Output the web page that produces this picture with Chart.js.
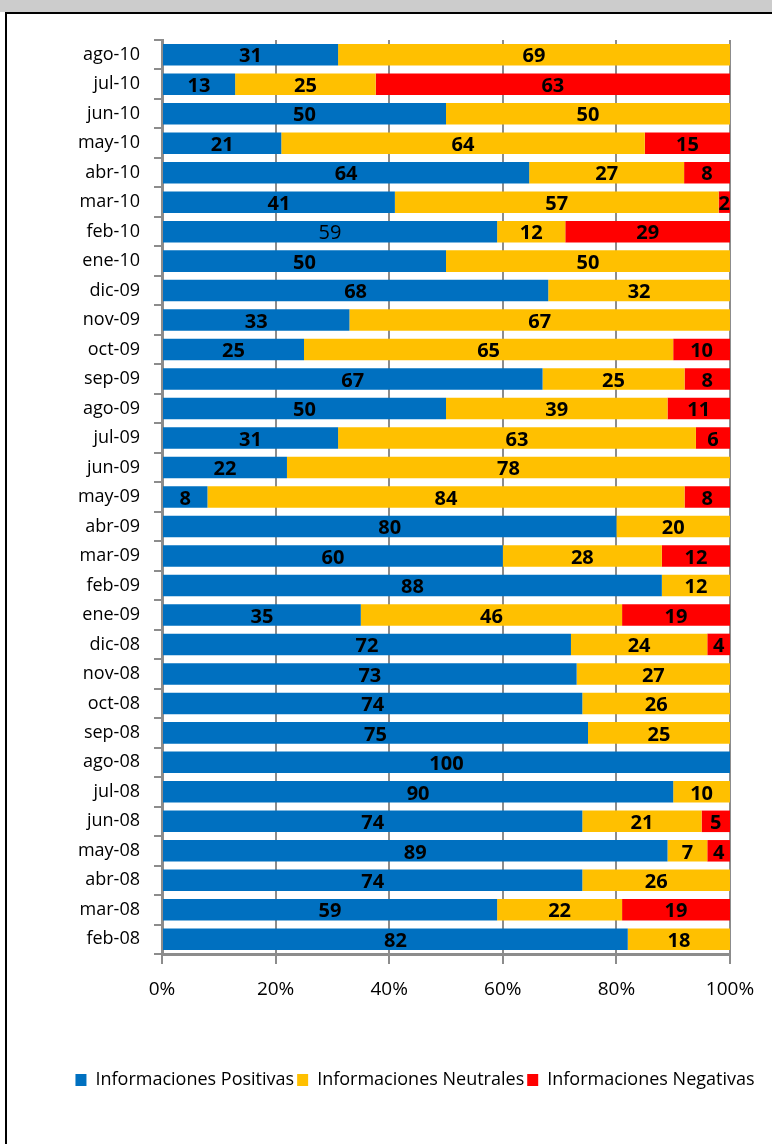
<!DOCTYPE html>
<html>
<head>
<meta charset="utf-8">
<script src="https://cdn.jsdelivr.net/npm/chart.js@4"></script>
<style>
html, body { margin: 0; padding: 0; background: #fff; overflow: hidden; }
#band { position: absolute; left: 0; top: 0; width: 772px; height: 12px; background: #cccccc; }
#frame { position: absolute; left: 5px; top: 12px; width: 820px; height: 1200px; border-top: 2px solid #000; border-left: 2px solid #000; }
#wrap { position: absolute; left: 0; top: 0; width: 772px; height: 1144px; }
</style>
</head>
<body>
<div id="band"></div>
<div id="frame"></div>
<div id="wrap"><canvas id="chart" width="772" height="1144"></canvas></div>
<script>
const months = ['ago-10', 'jul-10', 'jun-10', 'may-10', 'abr-10', 'mar-10', 'feb-10', 'ene-10',
    'dic-09', 'nov-09', 'oct-09', 'sep-09', 'ago-09', 'jul-09', 'jun-09', 'may-09', 'abr-09',
    'mar-09', 'feb-09', 'ene-09', 'dic-08', 'nov-08', 'oct-08', 'sep-08', 'ago-08', 'jul-08',
    'jun-08', 'may-08', 'abr-08', 'mar-08', 'feb-08'];
const positivas = [31, 13, 50, 21, 64, 41, 59, 50, 68, 33, 25, 67, 50, 31, 22, 8, 80, 60, 88, 35, 72, 73, 74, 75, 100, 90, 74, 89, 74, 59, 82];
const neutrales = [69, 25, 50, 64, 27, 57, 12, 50, 32, 67, 65, 25, 39, 63, 78, 84, 20, 28, 12, 46, 24, 27, 26, 25, 0, 10, 21, 7, 26, 22, 18];
const negativas = [0, 63, 0, 15, 8, 2, 29, 0, 0, 0, 10, 8, 11, 6, 0, 8, 0, 12, 0, 19, 4, 0, 0, 0, 0, 0, 5, 4, 0, 19, 0];
const xTickLabels = ['0%', '20%', '40%', '60%', '80%', '100%'];

const series = [
    { label: 'Informaciones Positivas', values: positivas, color: '#0070C0' },
    { label: 'Informaciones Neutrales', values: neutrales, color: '#FFC000' },
    { label: 'Informaciones Negativas', values: negativas, color: '#FF0000' }
];

// 100% stacked: each row is shown as share of its total
const totals = months.map((m, i) => positivas[i] + neutrales[i] + negativas[i]);

const FONT = "'Open Sans', 'Liberation Sans', sans-serif";

const valueLabels = {
    id: 'valueLabels',
    afterDatasetsDraw(chart) {
        const c = chart.ctx;
        c.save();
        c.textAlign = 'center';
        c.textBaseline = 'middle';
        c.fillStyle = '#000';
        chart.data.datasets.forEach((ds, di) => {
            const meta = chart.getDatasetMeta(di);
            meta.data.forEach((bar, i) => {
                const v = series[di].values[i];
                if (!v) return;
                // the feb-10 positive label is not bold in the original
                const bold = !(months[i] === 'feb-10' && di === 0);
                c.font = (bold ? 'bold ' : '') + '20px ' + FONT;
                c.fillText(String(v), (bar.x + bar.base) / 2, bar.y + 2);
            });
        });
        c.restore();
    }
};

// legend sits a bit right of the canvas centre and a little lower in the original
const legendShift = {
    id: 'legendShift',
    afterLayout(chart) {
        const lg = chart.legend;
        lg.left += 50; lg.right += 50;
        lg.top += 6; lg.bottom += 6;
    }
};

new Chart(document.getElementById('chart'), {
    type: 'bar',
    data: {
        labels: months,
        datasets: series.map(s => ({
            label: s.label,
            data: s.values.map((v, i) => v / totals[i] * 100),
            backgroundColor: s.color,
            borderWidth: 0,
            categoryPercentage: 1,
            barPercentage: 0.73
        }))
    },
    options: {
        indexAxis: 'y',
        responsive: false,
        animation: false,
        layout: { padding: { left: 0, right: 42, top: 40, bottom: 51 } },
        scales: {
            x: {
                stacked: true,
                min: 0,
                max: 100,
                ticks: {
                    stepSize: 20,
                    color: '#000',
                    font: { size: 19, family: FONT },
                    padding: 14,
                    callback: (v) => xTickLabels[v / 20]
                },
                grid: { color: '#8c8c8c', lineWidth: 2, tickLength: 10 },
                border: { color: '#8c8c8c', width: 3 },
                afterFit: (s) => { s.height = 108; }
            },
            y: {
                stacked: true,
                ticks: { color: '#000', font: { size: 18, family: FONT }, padding: 14, autoSkip: false },
                grid: { drawOnChartArea: false, color: '#8c8c8c', lineWidth: 2, tickLength: 8 },
                border: { color: '#8c8c8c', width: 3 },
                afterFit: (s) => { s.width = 162; }
            }
        },
        plugins: {
            legend: {
                position: 'bottom',
                labels: {
                    color: '#000',
                    font: { size: 18, family: FONT },
                    boxWidth: 11,
                    boxHeight: 12,
                    padding: 3
                }
            },
            tooltip: { enabled: false }
        }
    },
    plugins: [valueLabels, legendShift]
});
</script>
</body>
</html>
